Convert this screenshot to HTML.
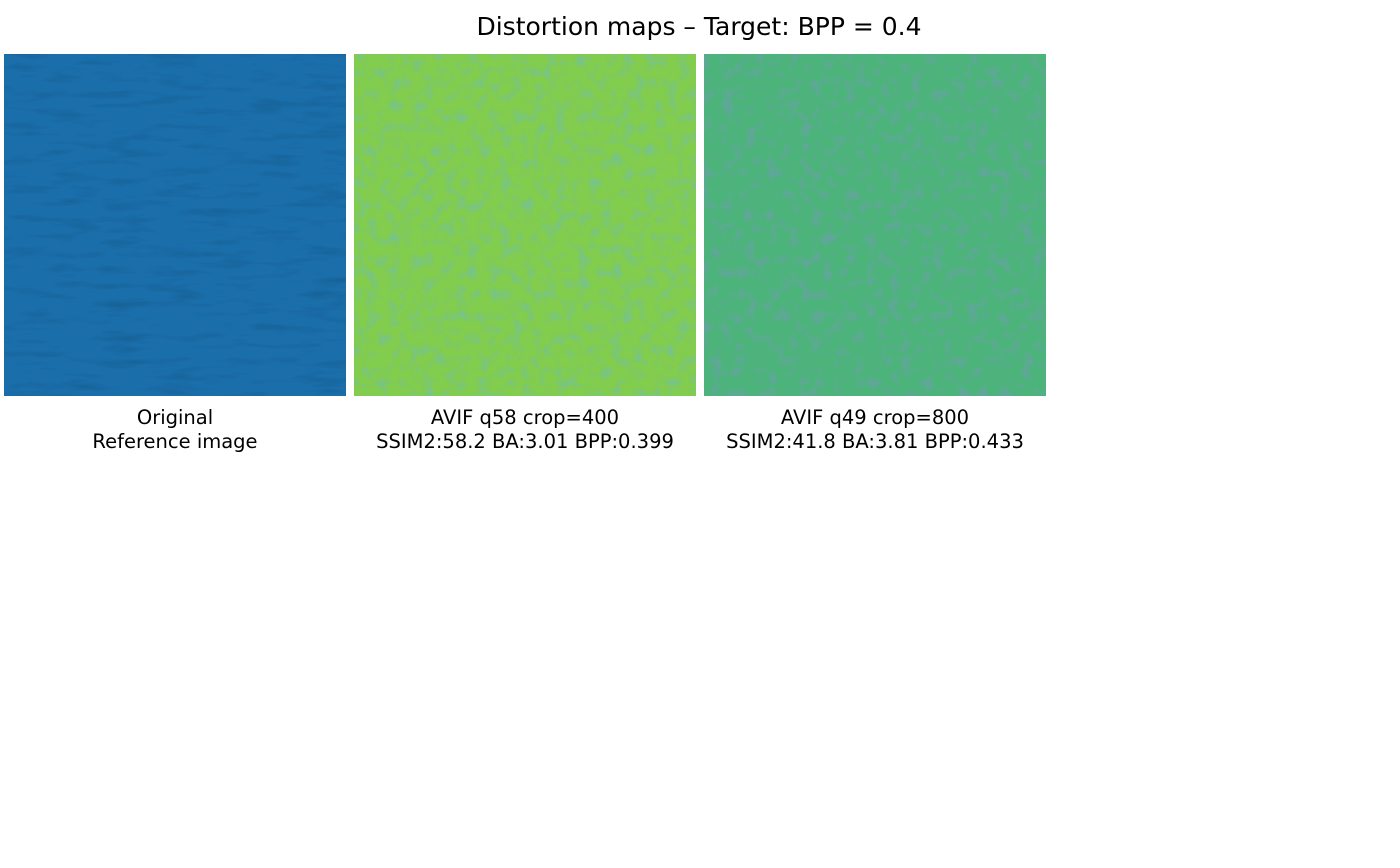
<!DOCTYPE html>
<html><head><meta charset="utf-8"><style>
html,body{margin:0;padding:0;background:#fff;width:1400px;height:868px;overflow:hidden}
</style></head><body>
<svg width="1400" height="868" xmlns="http://www.w3.org/2000/svg" font-family="DejaVu Sans, Liberation Sans, sans-serif">
<defs>
<filter id="n1" x="0" y="0" width="100%" height="100%">
<feTurbulence type="fractalNoise" baseFrequency="0.02 0.12" numOctaves="3" seed="3"/>
<feColorMatrix type="matrix" values="0 0 0 0 0  0 0 0 0 0  0 0 0 0 0  0 0 0 -1.2 0.6"/>
<feComposite in2="SourceGraphic" operator="in"/>
</filter>
<filter id="n2" x="0" y="0" width="100%" height="100%">
<feTurbulence type="fractalNoise" baseFrequency="0.09" numOctaves="3" seed="7"/>
<feColorMatrix type="matrix" values="0 0 0 0 0.15  0 0 0 0 0.5  0 0 0 0 0.55  0 0 0 -2.2 1.15"/>
<feComposite in2="SourceGraphic" operator="in"/>
</filter>
<filter id="n3" x="0" y="0" width="100%" height="100%">
<feTurbulence type="fractalNoise" baseFrequency="0.09" numOctaves="3" seed="11"/>
<feColorMatrix type="matrix" values="0 0 0 0 0.2  0 0 0 0 0.3  0 0 0 0 0.55  0 0 0 -2.2 1.15"/>
<feComposite in2="SourceGraphic" operator="in"/>
</filter>
</defs>
<text x="699" y="35" font-size="25" text-anchor="middle" fill="#000">Distortion maps – Target: BPP = 0.4</text>
<rect x="4" y="54" width="342" height="342" fill="#1a6eaa"/>
<rect x="4" y="54" width="342" height="342" fill="#0a4a80" filter="url(#n1)" opacity="0.2"/>
<rect x="354" y="54" width="342" height="342" fill="#82cc4e"/>
<rect x="354" y="54" width="342" height="342" fill="#000" filter="url(#n2)" opacity="0.6"/>
<rect x="704" y="54" width="342" height="342" fill="#4cb47a"/>
<rect x="704" y="54" width="342" height="342" fill="#000" filter="url(#n3)" opacity="0.6"/>
<g font-size="19.5" text-anchor="middle" fill="#000">
<text x="175" y="424">Original</text>
<text x="175" y="448">Reference image</text>
<text x="525" y="424">AVIF q58 crop=400</text>
<text x="525" y="448">SSIM2:58.2 BA:3.01 BPP:0.399</text>
<text x="875" y="424">AVIF q49 crop=800</text>
<text x="875" y="448">SSIM2:41.8 BA:3.81 BPP:0.433</text>
</g>
</svg>
</body></html>
